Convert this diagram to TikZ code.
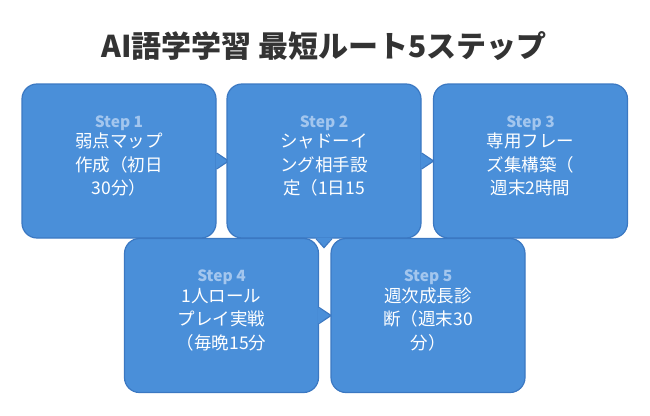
\documentclass[tikz,border=0pt]{standalone}
\usepackage{fontspec}
\setmainfont{Noto Sans CJK JP}
\usetikzlibrary{calc}
\definecolor{boxblue}{HTML}{4A8FD9}
\definecolor{boxedge}{HTML}{3B78C2}
\definecolor{steptext}{HTML}{A3C6EE}
\definecolor{titlegray}{HTML}{333333}
\tikzset{stepbox/.style={rectangle, rounded corners=15pt, fill=boxblue, draw=boxedge, line width=1.2pt,
            minimum width=194pt, minimum height=154pt, inner sep=0pt},
         steptxt/.style={text=white, align=center, font=\fontsize{17.5}{23.5}\selectfont}}
\newcommand*\stepname[1]{{\bfseries\fontsize{15.5}{17}\selectfont\color{steptext}Step #1}\\[-3pt]}
\newcommand*\rightptr[1]{
            \fill[boxblue] ($(#1.east)+(-1,-8)$) -- ($(#1.east)+(12,0)$) -- ($(#1.east)+(-1,8)$) -- cycle;
            \draw[boxedge, line width=1.2pt] ($(#1.east)+(0,-8)$) -- ($(#1.east)+(12,0)$) -- ($(#1.east)+(0,8)$);}
\newcommand*\downptr[1]{
            \fill[boxblue] ($(#1.south)+(-8,-1)$) -- ($(#1.south)+(0,9)$) -- ($(#1.south)+(8,-1)$) -- cycle;
            \draw[boxedge, line width=1.2pt] ($(#1.south)+(-8,0)$) -- ($(#1.south)+(0,9)$) -- ($(#1.south)+(8,0)$);}
\begin{document}
\begin{tikzpicture}[x=1pt, y=-1pt]
        \useasboundingbox (0,0) rectangle (650,415);
        \node[font=\bfseries\fontsize{30}{34}\selectfont, text=titlegray] (title) at (324,46) {AI語学学習 最短ルート5ステップ};
        % first row
        \node[stepbox] (s1) at (119,161) {};
        \node[steptxt] (t1) at ($(s1.center)+(0,-5)$) {\stepname{1}弱点マップ\\作成（初日\\30分）};
        \rightptr{s1}
        \node[stepbox] (s2) at (324,161) {};
        \node[steptxt] (t2) at ($(s2.center)+(0,-5)$) {\stepname{2}シャドーイ\\ング相手設\\定（1日15};
        \rightptr{s2}
        \downptr{s2}
        \node[stepbox] (s3) at (530.5,161) {};
        \node[steptxt] (t3) at ($(s3.center)+(0,-5)$) {\stepname{3}専用フレー\\ズ集構築（\\週末2時間};
        % second row
        \node[stepbox] (s4) at (221.5,315.5) {};
        \node[steptxt] (t4) at ($(s4.center)+(0,-5)$) {\stepname{4}1人ロール\\プレイ実戦\\（毎晩15分};
        \rightptr{s4}
        \node[stepbox] (s5) at (428,315.5) {};
        \node[steptxt] (t5) at ($(s5.center)+(0,-5)$) {\stepname{5}週次成長診\\断（週末30\\分）};
\end{tikzpicture}
\end{document}
